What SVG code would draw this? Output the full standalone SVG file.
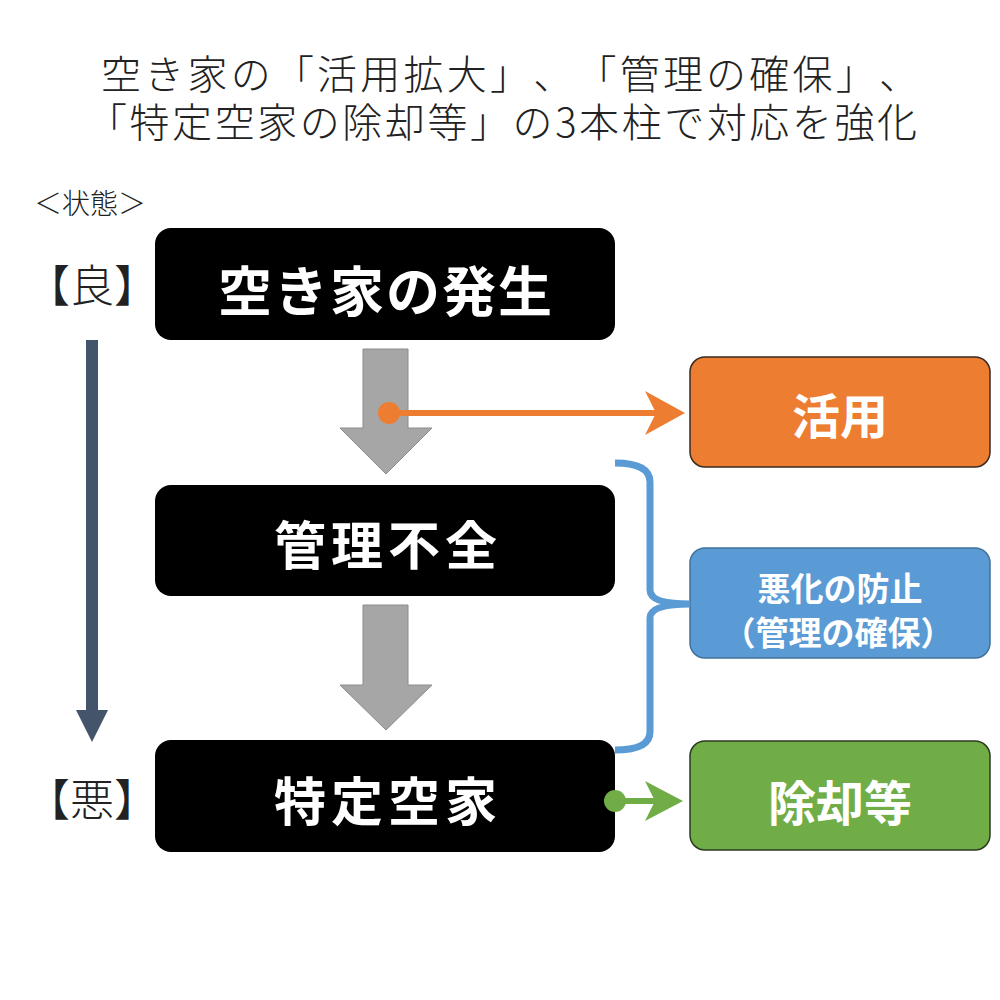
<svg xmlns="http://www.w3.org/2000/svg" width="1000" height="1000" viewBox="0 0 1000 1000">
  <style>
    text{text-spacing-trim:space-all}
    .title{font-family:"Noto Sans CJK JP","Noto Sans CJK SC",sans-serif;font-weight:300;font-size:40px;fill:#222;dominant-baseline:central}
    .lbl{font-family:"Noto Sans CJK JP","Noto Sans CJK SC",sans-serif;font-weight:300;fill:#222;text-anchor:middle;dominant-baseline:central}
    .bt{font-family:"Noto Sans CJK JP","Noto Sans CJK SC",sans-serif;font-weight:700;fill:#fff;text-anchor:middle;dominant-baseline:central}
    .blk{fill:#000}
    .grayarrow{fill:#A6A6A6;stroke:#8C8C8C;stroke-width:1}
  </style>
  <rect width="1000" height="1000" fill="#fff"/>
  <g id="title">
    <text class="title" x="101" y="72" textLength="818" lengthAdjust="spacing">空き家の「活用拡大」、「管理の確保」、</text>
    <text class="title" x="87" y="120" textLength="830" lengthAdjust="spacing">「特定空家の除却等」の3本柱で対応を強化</text>
  </g>
  <g id="state-label">
    <text class="lbl" x="90" y="202" font-size="28">＜状態＞</text>
  </g>
  <g id="good-label">
    <text class="lbl" x="92" y="283" font-size="44">【良】</text>
  </g>
  <g id="bad-label">
    <text class="lbl" x="92" y="797" font-size="44">【悪】</text>
  </g>
  <g id="node-occurrence">
    <rect class="blk" x="155" y="228" width="460" height="112" rx="16"/>
    <text class="bt" x="386" y="288" font-size="54" letter-spacing="2">空き家の発生</text>
  </g>
  <g id="node-mismanagement">
    <rect class="blk" x="155" y="485" width="460" height="111" rx="16"/>
    <text class="bt" x="388" y="542" font-size="52" letter-spacing="5">管理不全</text>
  </g>
  <g id="node-specific">
    <rect class="blk" x="155" y="740" width="460" height="112" rx="16"/>
    <text class="bt" x="388" y="798" font-size="52" letter-spacing="5">特定空家</text>
  </g>
  <g id="node-utilize">
    <rect x="690" y="357" width="300" height="110" rx="15" fill="#ED7D31" stroke="#3a2a20" stroke-width="1.5"/>
    <text class="bt" x="840" y="413" font-size="48">活用</text>
  </g>
  <g id="node-prevent">
    <rect x="690" y="548" width="300" height="110" rx="15" fill="#5B9BD5" stroke="#41719C" stroke-width="1.5"/>
    <text class="bt" x="840" y="587" font-size="33">悪化の防止</text>
    <text class="bt" x="838" y="631" font-size="33">（管理の確保）</text>
  </g>
  <g id="node-remove">
    <rect x="690" y="741" width="300" height="109" rx="15" fill="#70AD47" stroke="#2a3a20" stroke-width="1.5"/>
    <text class="bt" x="840" y="800" font-size="48">除却等</text>
  </g>
  <g id="connectors">
    <rect x="86" y="340" width="12" height="372" fill="#44546A"/>
    <polygon points="76,710 108,710 92,742" fill="#44546A"/>
    <polygon class="grayarrow" points="363,349 408,349 408,428 432,428 386,474 340,428 363,428"/>
    <polygon class="grayarrow" points="363,605 408,605 408,685 432,685 386,730 340,685 363,685"/>
    <line x1="389" y1="413" x2="660" y2="413" stroke="#ED7D31" stroke-width="6"/>
    <circle cx="389" cy="413" r="11" fill="#ED7D31"/>
    <polygon points="685,413 645,391 656,413 645,435" fill="#ED7D31"/>
    <path d="M615,463 Q650,463 650,482 L650,590 Q650,604 690,604 Q650,604 650,618 L650,732 Q650,750 615,750" fill="none" stroke="#5B9BD5" stroke-width="7"/>
    <line x1="615" y1="801" x2="660" y2="801" stroke="#70AD47" stroke-width="6"/>
    <circle cx="615" cy="801" r="11" fill="#70AD47"/>
    <polygon points="683,801 645,781 655,801 645,821" fill="#70AD47"/>
  </g>
</svg>
